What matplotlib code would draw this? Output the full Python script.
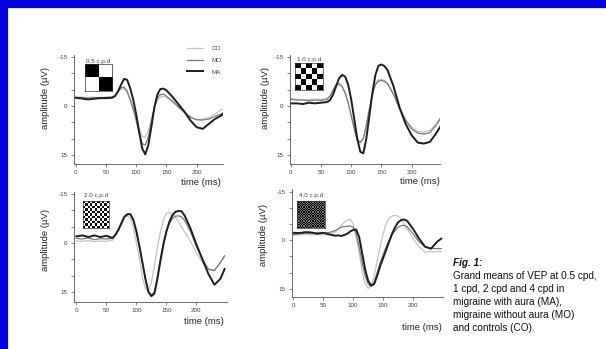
import numpy as np
import matplotlib
matplotlib.use("Agg")
import matplotlib.pyplot as plt
from matplotlib.patches import Rectangle

plt.rcParams['font.family'] = ['Liberation Sans', 'DejaVu Sans']

# grand mean VEP traces (time in ms, amplitude in uV, negative up)
t_05 = [0, 10, 20, 30, 40, 50, 60, 65, 70, 75, 80, 85, 90, 95, 100, 105, 110, 115, 120, 125,
        130, 135, 140, 145, 150, 160, 170, 180, 190, 200, 210, 220, 230, 240, 247]
ma_05 = [-2.5, -2.3, -2.0, -2.2, -2.4, -2.4, -2.5, -3.0, -4.5, -6.5, -8.3, -8.0, -5.5, -2.0, 2.5,
         8.0, 13.0, 14.8, 12.0, 6.5, 0.5, -3.5, -5.2, -5.3, -4.8, -2.8, -0.5, 1.8, 4.5, 6.5,
         7.0, 5.5, 4.0, 3.0, 1.8]
mo_05 = [-2.6, -2.5, -2.4, -2.5, -2.5, -2.6, -2.7, -3.2, -4.5, -5.6, -5.8, -4.5, -2.0, 1.0, 4.5,
         8.5, 11.5, 12.0, 9.5, 5.0, 0.5, -2.5, -3.5, -3.6, -3.0, -1.5, 0.3, 2.0, 3.5, 4.2,
         4.3, 4.0, 3.2, 2.5, 1.8]
co_05 = [-2.8, -2.7, -2.6, -2.7, -2.6, -2.7, -2.8, -3.2, -4.3, -5.2, -5.3, -4.2, -2.0, 0.5, 3.5,
         7.0, 9.3, 9.5, 7.5, 4.0, 0.5, -1.8, -2.7, -3.0, -2.7, -1.2, 0.5, 2.0, 3.3, 4.2,
         4.0, 3.5, 2.5, 1.2, 0.5]

t_10 = [0, 10, 20, 30, 40, 50, 60, 65, 70, 75, 80, 85, 90, 95, 100, 105, 110, 115, 120, 125,
        130, 135, 140, 145, 150, 155, 160, 170, 180, 190, 200, 210, 220, 230, 240, 247]
ma_10 = [-0.8, -0.8, -0.6, -1.0, -0.8, -1.0, -1.2, -1.8, -3.5, -6.0, -8.5, -9.5, -9.0, -6.5, -2.0,
         4.0, 10.0, 14.0, 14.5, 10.0, 3.0, -4.0, -9.5, -12.3, -12.7, -12.2, -11.0, -6.0, 0.5,
         5.5, 9.0, 11.2, 11.5, 11.0, 8.5, 6.4]
mo_10 = [-2.0, -1.8, -1.8, -1.6, -1.8, -1.7, -2.0, -3.0, -4.8, -6.5, -6.8, -6.0, -4.0, -1.0, 3.0,
         7.0, 10.5, 11.2, 10.0, 6.0, 1.0, -3.5, -6.5, -7.6, -7.8, -7.5, -6.8, -3.5, 1.0,
         4.5, 7.0, 8.3, 8.6, 8.2, 6.0, 4.0]
co_10 = [-2.3, -2.1, -2.0, -2.0, -2.1, -2.0, -2.3, -3.2, -5.0, -6.3, -6.6, -5.8, -3.8, -0.8, 3.0,
         6.8, 10.0, 11.0, 9.8, 6.0, 1.0, -3.5, -6.8, -8.0, -8.2, -7.8, -7.0, -3.8, 0.5,
         4.0, 6.5, 7.8, 8.0, 7.5, 5.5, 3.8]

t_20 = [0, 10, 20, 30, 40, 50, 60, 65, 70, 75, 80, 85, 90, 95, 100, 105, 110, 115, 120, 125,
        130, 135, 140, 145, 150, 155, 160, 165, 170, 175, 180, 190, 200, 210, 220, 230, 240, 247]
ma_20 = [-2.0, -2.3, -1.8, -2.3, -1.8, -2.2, -1.5, -2.5, -4.0, -6.0, -8.0, -8.8, -8.8, -7.0, -3.5,
         1.0, 6.0, 11.0, 15.0, 16.3, 15.5, 11.0, 5.5, 0.5, -3.5, -6.5, -8.5, -9.5, -9.8, -9.7,
         -8.5, -4.5, 0.5, 5.0, 9.5, 12.8, 11.0, 8.0]
mo_20 = [-1.4, -1.2, -1.5, -1.0, -1.3, -1.2, -1.4, -2.5, -4.0, -6.0, -8.0, -8.8, -8.8, -7.0, -3.5,
         1.0, 6.0, 11.0, 15.0, 16.0, 15.0, 10.5, 5.0, 0.0, -3.5, -6.0, -7.5, -8.2, -8.3, -8.0,
         -7.0, -3.5, 1.0, 5.0, 8.0, 8.5, 6.0, 4.0]
co_20 = [-0.6, -0.5, -0.7, -0.4, -0.6, -0.5, -0.8, -2.0, -4.0, -6.5, -8.0, -8.3, -7.5, -4.5, 0.0,
         5.0, 10.5, 14.0, 14.7, 12.0, 7.0, 1.5, -3.5, -7.0, -9.0, -9.3, -9.0, -8.0, -6.5, -5.0,
         -3.5, -0.5, 3.0, 6.0, 8.3, 8.3, 6.0, 4.0]

t_40 = [0, 10, 20, 30, 40, 50, 60, 70, 75, 80, 85, 90, 95, 100, 105, 110, 115, 120, 125, 130,
        135, 140, 145, 150, 155, 160, 165, 170, 175, 180, 185, 190, 200, 210, 220, 230, 240, 247]
ma_40 = [-2.3, -2.2, -2.5, -2.4, -2.0, -2.3, -1.8, -1.4, -1.5, -1.3, -1.6, -2.0, -2.7, -3.2, -3.3,
         -1.0, 4.0, 9.0, 12.5, 14.0, 13.5, 11.0, 8.0, 5.5, 3.0, 0.5, -2.0, -4.0, -5.5, -6.2,
         -6.4, -6.0, -3.5, -0.5, 2.0, 2.6, 0.5, -0.5]
mo_40 = [-1.8, -2.0, -2.2, -2.1, -2.3, -2.2, -2.4, -3.0, -3.5, -4.0, -4.2, -4.3, -4.4, -4.0, -2.0,
         2.0, 7.0, 11.0, 13.5, 14.2, 13.0, 10.0, 7.0, 4.5, 2.0, 0.0, -1.8, -3.0, -4.0, -4.5,
         -4.6, -4.2, -2.0, 0.5, 2.0, 2.5, 2.6, 2.6]
co_40 = [-1.5, -1.7, -1.8, -1.6, -1.8, -1.6, -1.8, -2.5, -3.5, -4.5, -5.5, -6.2, -6.4, -5.0, -1.0,
         4.0, 9.5, 13.5, 14.9, 14.0, 11.0, 6.5, 2.0, -2.0, -5.0, -6.8, -7.5, -7.7, -7.4, -6.5,
         -5.0, -3.5, -0.5, 2.0, 3.6, 3.5, 3.5, 3.5]

cpd_labels = ['0.5 c.p.d', '1.0 c.p.d', '2.0 c.p.d', '4.0 c.p.d']
n_checks = [2, 5, 11, 22]
x_ticks = [0, 50, 100, 150, 200]
y_ticks = [-15, -10, -5, 0, 5, 10, 15]
y_ticklabels = ['-15', '', '', '0', '', '', '15']

caption = ['Grand means of VEP at 0.5 cpd,', '1 cpd, 2 cpd and 4 cpd in',
           'migraine with aura (MA),', 'migraine without aura (MO)', 'and controls (CO).']

W, H = 606, 349


def fx(px):
    return px / W


def fy(py):
    return 1 - py / H


fig = plt.figure(figsize=(6.06, 3.49), dpi=100, facecolor='#0202e2')
fig.patches.append(Rectangle((fx(7), -0.05), 1, fy(7) + 0.05, transform=fig.transFigure,
                             facecolor='white', edgecolor='#15153a', lw=0.9, zorder=-5))

# panel layout in pixels: axes box (left, right, top, bottom), limits, label spots
panels = [
    dict(t=t_05, co=co_05, mo=mo_05, ma=ma_05, box=(74, 223, 55, 164), xlim=(-2.8, 243.5),
         ylim=(17.75, -15.6), ylab=(46, 98), tlab=(221, 183), ins=(85, 112, 64, 91), ilab=(98, 61)),
    dict(t=t_10, co=co_10, mo=mo_10, ma=ma_10, box=(290, 440, 55, 164), xlim=(-1.2, 246.8),
         ylim=(17.75, -15.6), ylab=(265, 98), tlab=(440, 181), ins=(295, 323, 63, 90), ilab=(309, 59)),
    dict(t=t_20, co=co_20, mo=mo_20, ma=ma_20, box=(74, 227, 192, 302), xlim=(-4, 251),
         ylim=(18.1, -15.6), ylab=(46, 240), tlab=(224, 322), ins=(83, 109, 201, 228), ilab=(96, 196)),
    dict(t=t_40, co=co_40, mo=mo_40, ma=ma_40, box=(292, 443, 189, 297), xlim=(-2.2, 250),
         ylim=(17.5, -15.8), ylab=(263, 235), tlab=(442, 327), ins=(297, 325, 201, 228), ilab=(311, 195)),
]
# light square tone of each stimulus as it prints on the slide
light_tone = [0.0, 0.0, 0.0, 0.55]

axes = []
for i, p in enumerate(panels):
    l, r, t, b = p['box']
    ax = fig.add_axes([fx(l), fy(b), fx(r - l), (b - t) / H])
    ax.plot(p['t'], p['co'], color='#c4c4c4', lw=0.9, label='CO')
    ax.plot(p['t'], p['mo'], color='#7a7a7a', lw=0.9, label='MO')
    ax.plot(p['t'], p['ma'], color='#1e1e1e', lw=1.4, label='MA')
    ax.set_xlim(*p['xlim'])
    ax.set_ylim(*p['ylim'])
    ax.set_xticks(x_ticks)
    ax.set_yticks(y_ticks, labels=y_ticklabels)
    ax.spines['top'].set_visible(False)
    ax.spines['right'].set_visible(False)
    for s in ('left', 'bottom'):
        ax.spines[s].set_linewidth(0.6)
        ax.spines[s].set_color('#555555')
    ax.tick_params(direction='out', length=2.5, width=0.5, labelsize=4.5, pad=2,
                   colors='#555555', labelcolor='#444444')
    ax.set_facecolor('none')

    # axis titles as on the slide
    fig.text(fx(p['ylab'][0]), fy(p['ylab'][1]), 'amplitude (\u00b5V)', rotation=90,
             ha='center', va='center', fontsize=6.8, color='#222222')
    fig.text(fx(p['tlab'][0]), fy(p['tlab'][1]), 'time (ms)', ha='right', va='center',
             fontsize=6.8, color='#222222')

    # checkerboard stimulus inset
    il, ir, it, ib = p['ins']
    iax = fig.add_axes([fx(il), fy(ib), fx(ir - il), (ib - it) / H])
    n = n_checks[i]
    board = ((np.indices((n, n)).sum(axis=0) + 1) % 2).astype(float)
    board[board == 0] = light_tone[i]
    iax.imshow(board, cmap='gray_r', vmin=0, vmax=1, interpolation='nearest', aspect='auto')
    iax.set_xticks([])
    iax.set_yticks([])
    for s in iax.spines.values():
        s.set_linewidth(0.5)
        s.set_color('#333333')
    fig.text(fx(p['ilab'][0]), fy(p['ilab'][1]), cpd_labels[i], ha='center', va='center',
             fontsize=4.5, color='#444444')
    axes.append(ax)

axes[0].legend(loc='upper left', bbox_to_anchor=(fx(187), fy(46)), bbox_transform=fig.transFigure,
               frameon=False, fontsize=4.5, handlelength=2.6, handletextpad=1.4,
               labelspacing=1.0, borderpad=0, borderaxespad=0, labelcolor='#444444')

# figure caption, one row every 13 px
fig.text(fx(453), fy(263), 'Fig. 1:', fontsize=7.2, fontweight='bold', fontstyle='italic',
         ha='left', va='center', color='#111111')
for k, line in enumerate(caption):
    fig.text(fx(453), fy(276 + k * 12.9), line, fontsize=7.2, ha='left', va='center',
             color='#111111')

fig.savefig('out.png', dpi=100, facecolor=fig.get_facecolor())
